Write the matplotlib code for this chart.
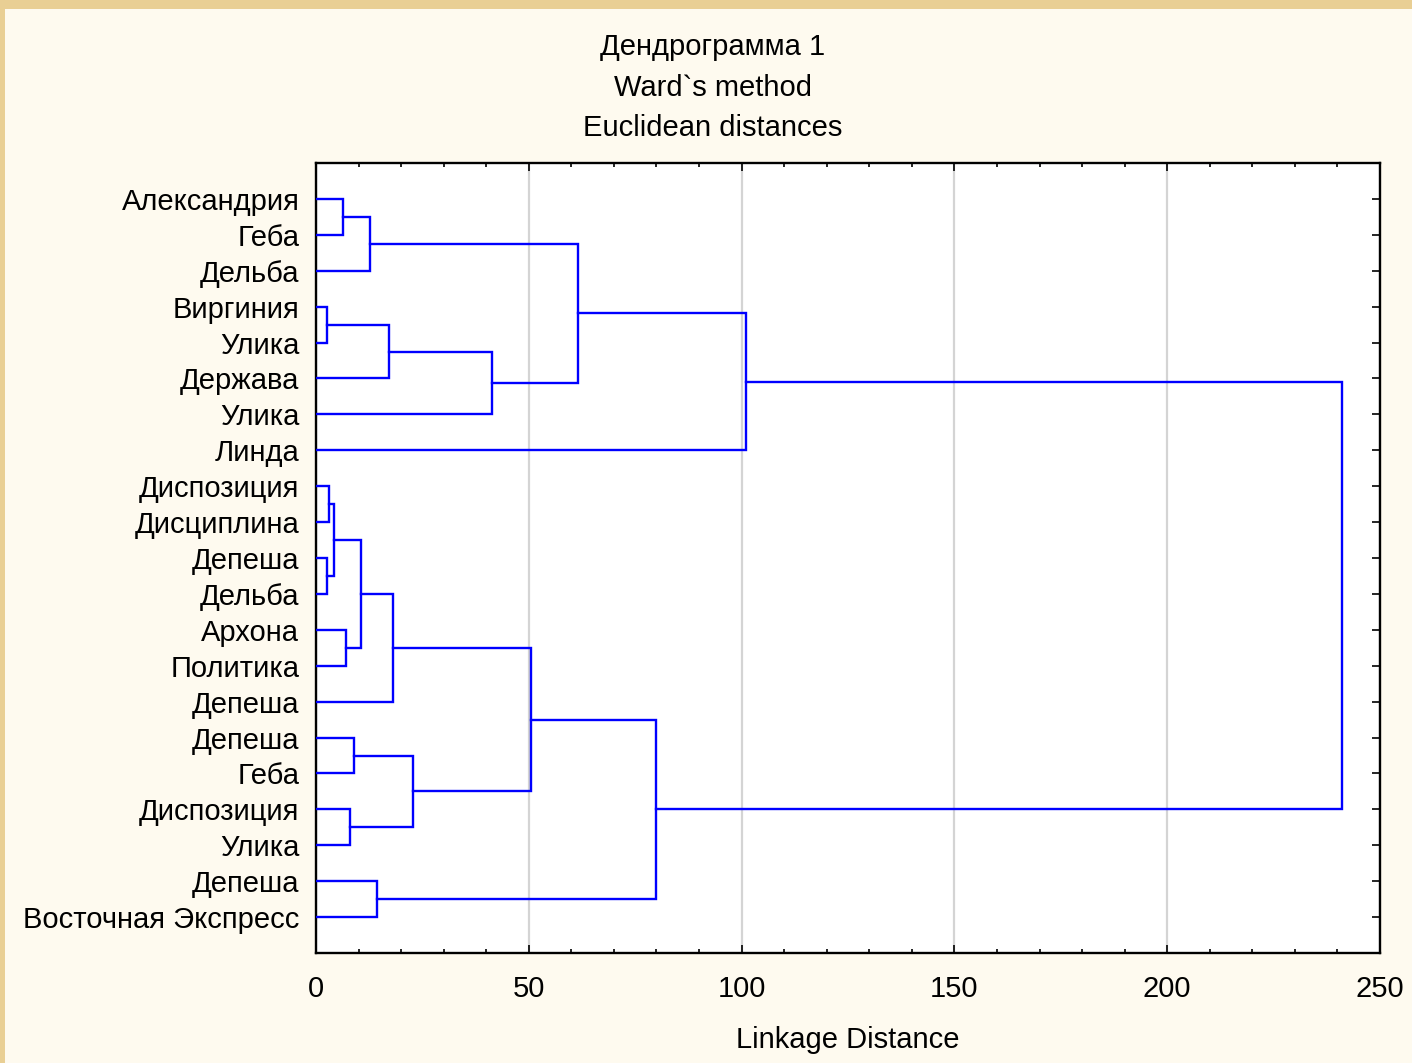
import matplotlib
matplotlib.use("Agg")
from matplotlib import pyplot as plt
from matplotlib.patches import Rectangle
from matplotlib.ticker import MultipleLocator

plt.rcParams['font.family'] = ['Liberation Sans', 'DejaVu Sans']

# leaves, top to bottom
labels = ["Александрия", "Геба", "Дельба", "Виргиния", "Улика", "Держава", "Улика",
          "Линда", "Диспозиция", "Дисциплина", "Депеша", "Дельба", "Архона", "Политика",
          "Депеша", "Депеша", "Геба", "Диспозиция", "Улика", "Депеша",
          "Восточная Экспресс"]

# merges: (node a, node b, linkage distance); nodes >= 21 are earlier merges
merge_a = [0, 21, 3, 23, 24, 22, 26, 8, 10, 28, 12, 30, 32, 15, 17, 34, 33, 19, 37, 27]
merge_b = [1, 2, 4, 5, 6, 25, 7, 9, 11, 29, 13, 31, 14, 16, 18, 35, 36, 20, 38, 39]
merge_h = [6.4, 12.8, 2.7, 17.1, 41.4, 61.6, 101.0, 3.1, 2.7, 4.2, 7.0, 10.6, 18.2,
           9.0, 8.1, 22.9, 50.6, 14.4, 79.9, 241.1]

n = len(labels)
pos = {i: (0.0, i + 1) for i in range(n)}  # (distance, y)

fig = plt.figure(figsize=(14.12, 10.63), dpi=100)
fig.patch.set_facecolor("#fefaef")
# parchment strips along the top and left edges
fig.patches.append(Rectangle((0, 1 - 9 / 1063), 1, 9 / 1063, transform=fig.transFigure,
                             facecolor="#e9cf94", edgecolor="none", zorder=0))
fig.patches.append(Rectangle((0, 0), 5 / 1412, 1, transform=fig.transFigure,
                             facecolor="#e9cf94", edgecolor="none", zorder=0))

ax = fig.add_axes([316 / 1412, 1 - 953 / 1063, 1064 / 1412, 790 / 1063])
ax.set_facecolor("white")

for k, (a, b, h) in enumerate(zip(merge_a, merge_b, merge_h)):
    xa, ya = pos[a]
    xb, yb = pos[b]
    ax.plot([xa, h, h, xb], [ya, ya, yb, yb], color="#0000ff", linewidth=1.7,
            solid_joinstyle="miter", zorder=3)
    pos[n + k] = (h, (ya + yb) / 2)

ax.set_xlim(0, 250)
ax.set_ylim(n + 1, 0)
ax.xaxis.set_major_locator(MultipleLocator(50))
ax.xaxis.set_minor_locator(MultipleLocator(10))
ax.set_yticks(range(1, n + 1))
ax.set_yticklabels(labels)
ax.grid(axis="x", which="major", color="#d4d4d4", linewidth=1.6, zorder=1)

ax.tick_params(axis="both", which="both", direction="in", top=True, right=True,
               labelsize=21, colors="black", width=1.2)
ax.tick_params(axis="x", which="major", length=6, pad=15.5)
ax.tick_params(axis="x", which="minor", length=3)
ax.tick_params(axis="y", which="major", length=6, pad=12)
for sp in ax.spines.values():
    sp.set_linewidth(1.7)

ax.set_xlabel("Linkage Distance", fontsize=21, labelpad=17)

fig.text(713 / 1412, 1 - 47 / 1063, "Дендрограмма 1", ha="center", va="center", fontsize=21)
fig.text(713 / 1412, 1 - 88 / 1063, "Ward`s method", ha="center", va="center", fontsize=21)
fig.text(713 / 1412, 1 - 128 / 1063, "Euclidean distances", ha="center", va="center", fontsize=21)

plt.savefig("out.png", dpi=100, facecolor=fig.get_facecolor())
